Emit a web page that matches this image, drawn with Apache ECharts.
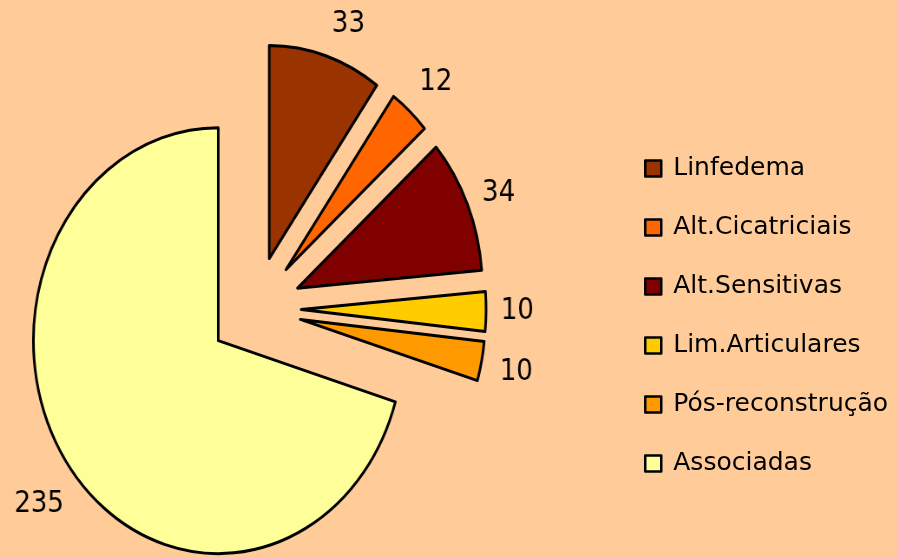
<!DOCTYPE html>
<html>
<head>
<meta charset="utf-8">
<script src="https://cdn.jsdelivr.net/npm/echarts@6/dist/echarts.min.js"></script>
<style>
html,body{margin:0;padding:0;background:#FFCC99;}
#wrap{position:relative;width:898px;height:557px;overflow:hidden;background:#FFCC99;}
#pie{position:absolute;left:0;top:0;width:1035px;height:557px;transform:scaleX(0.868);transform-origin:0 0;}
#leg{position:absolute;left:0;top:0;width:898px;height:557px;}
</style>
</head>
<body>
<div id="wrap"><div id="pie"></div><div id="leg"></div></div>
<script>
var categories = ['Linfedema', 'Alt.Cicatriciais', 'Alt.Sensitivas', 'Lim.Articulares', 'Pós-reconstrução', 'Associadas'];
var values = [33, 12, 34, 10, 10, 235];
var colors = ['#993300', '#FF6600', '#800000', '#FFCC00', '#FF9900', '#FFFF99'];
// label placement tuning (invisible label lines)
var labelLineLengths = [33, 40, 27, 17, 55, 61];
var labelLineLengths2 = [-3, -16, -8, 0, -33, -42];

// Pie drawn in a horizontally compressed canvas to reproduce the reference's oval pie.
var pie = echarts.init(document.getElementById('pie'));
pie.setOption({
  animation: false,
  series: [{
    type: 'pie',
    center: [294, 309],
    radius: [0, 213],
    startAngle: 90,
    clockwise: true,
    selectedMode: 'multiple',
    selectedOffset: 53,
    avoidLabelOverlap: false,
    itemStyle: { borderColor: '#000', borderWidth: 3 },
    select: { itemStyle: { borderColor: '#000', borderWidth: 3 } },
    emphasis: { disabled: true },
    label: {
      show: true,
      position: 'outside',
      formatter: '{c}',
      fontFamily: 'DejaVu Sans',
      fontSize: 30,
      color: '#000',
      distanceToLabelLine: 0
    },
    labelLine: { show: false, length: 20, length2: 0 },
    data: categories.map(function (c, i) {
      return {
        name: c, value: values[i], selected: true,
        itemStyle: { color: colors[i] },
        labelLine: { show: false, length: labelLineLengths[i], length2: labelLineLengths2[i] }
      };
    })
  }]
});

// Legend rendered unscaled on top.
var leg = echarts.init(document.getElementById('leg'));
leg.setOption({
  animation: false,
  legend: {
    orient: 'vertical',
    left: 639,
    top: 151,
    icon: 'rect',
    itemWidth: 16,
    itemHeight: 16,
    itemGap: 34,
    selectedMode: false,
    itemStyle: { borderColor: '#000', borderWidth: 2.5 },
    textStyle: { fontFamily: 'DejaVu Sans', fontSize: 25, color: '#000', padding: [0, 0, 0, 7] },
    data: categories
  },
  series: [{
    type: 'pie',
    silent: true,
    center: ['-50%', '-50%'],
    radius: [0, 1],
    itemStyle: { borderColor: '#000', borderWidth: 2.5 },
    label: { show: false },
    labelLine: { show: false },
    data: categories.map(function (c, i) {
      return { name: c, value: values[i], itemStyle: { color: colors[i] } };
    })
  }]
});
</script>
</body>
</html>
